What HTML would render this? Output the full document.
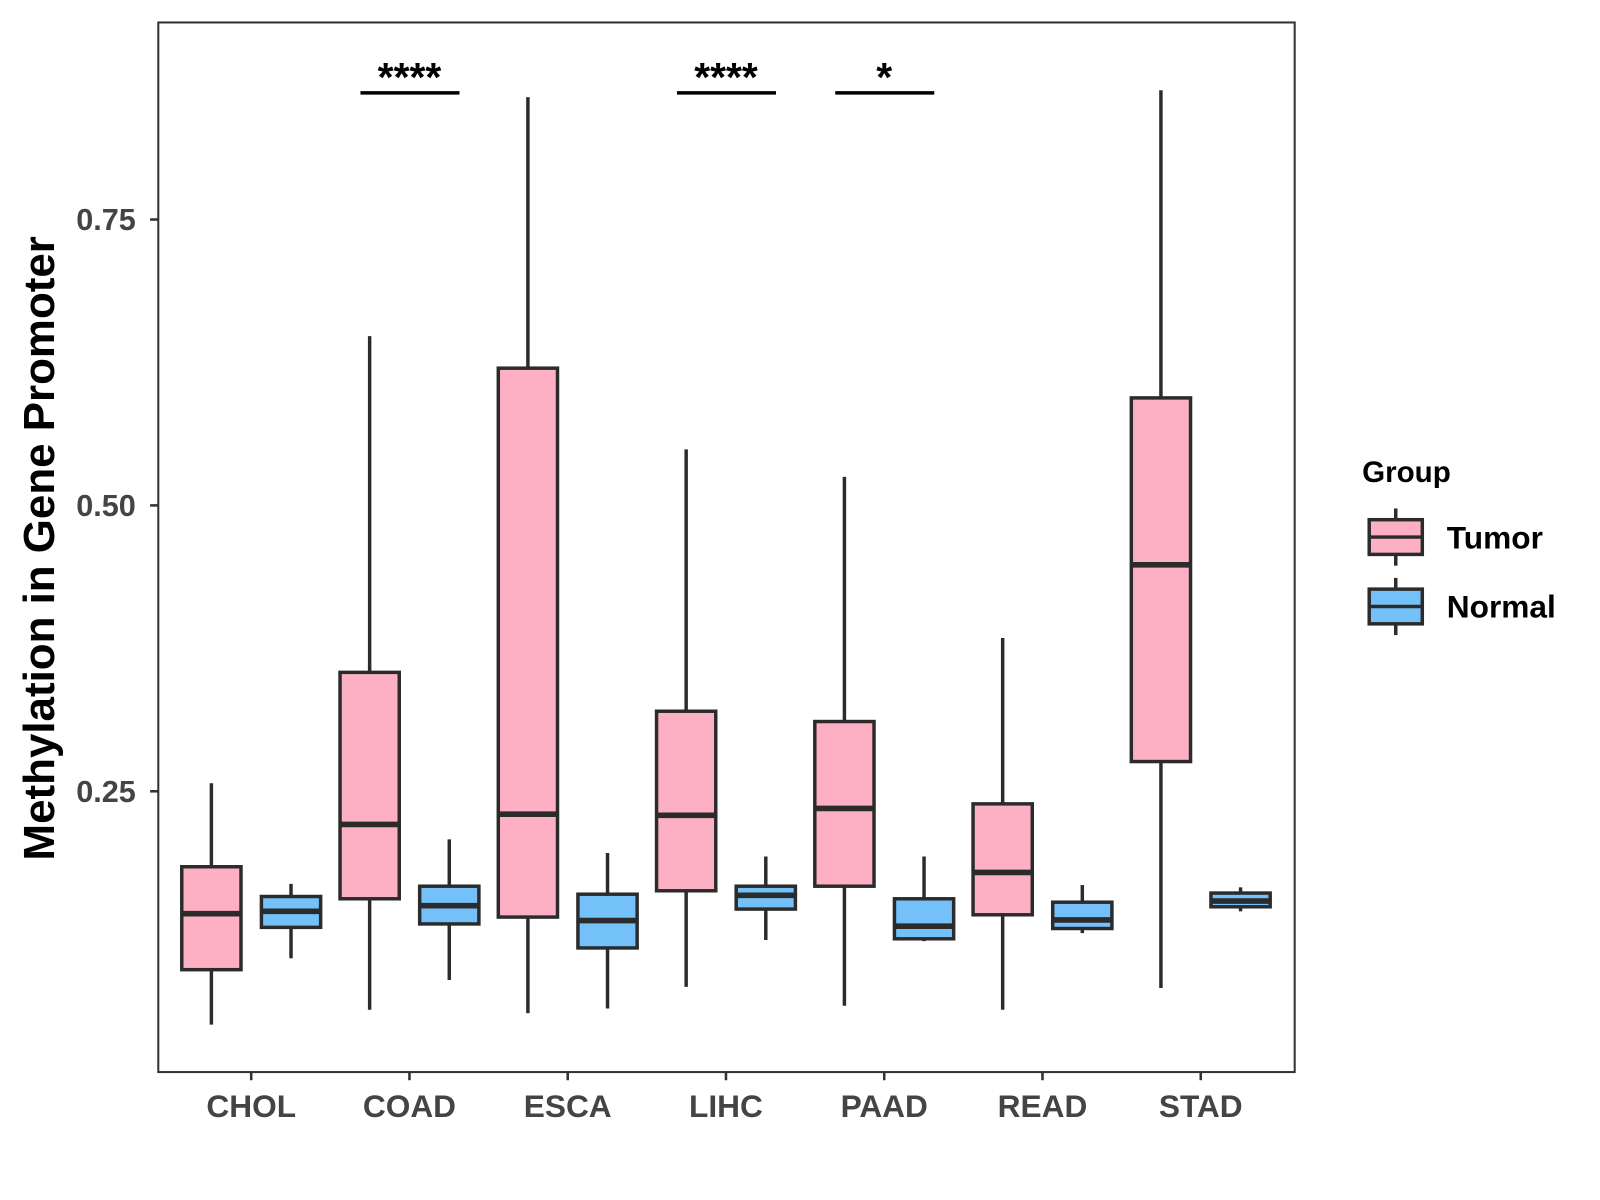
<!DOCTYPE html>
<html><head><meta charset="utf-8"><style>
html,body{margin:0;padding:0;background:#fff;}
svg{display:block;font-family:"Liberation Sans",Arial,sans-serif;font-weight:bold;}
</style></head><body>
<svg id="chart" width="1600" height="1200" viewBox="0 0 1567 1175.3" xmlns="http://www.w3.org/2000/svg">
<rect x="0" y="0" width="1567" height="1176" fill="#fff"/>
<g id="plot"></g>
</svg>
<script>
const categories = ["CHOL","COAD","ESCA","LIHC","PAAD","READ","STAD"];
// [whiskerMin, q1, median, q3, whiskerMax]
const tumorStats = [
  [0.046,0.094,0.143,0.184,0.257],
  [0.059,0.156,0.221,0.354,0.648],
  [0.056,0.140,0.230,0.620,0.857],
  [0.079,0.163,0.229,0.320,0.549],
  [0.0625,0.167,0.235,0.311,0.525],
  [0.059,0.142,0.179,0.239,0.384],
  [0.078,0.276,0.448,0.594,0.863]
];
const normalStats = [
  [0.104,0.131,0.145,0.158,0.169],
  [0.085,0.134,0.150,0.167,0.208],
  [0.060,0.113,0.137,0.160,0.196],
  [0.120,0.147,0.159,0.167,0.193],
  [0.119,0.121,0.132,0.156,0.193],
  [0.126,0.130,0.1375,0.153,0.168],
  [0.145,0.149,0.154,0.161,0.166]
];
const yTicks = [0.25,0.50,0.75];
const yTickLabels = ["0.25","0.50","0.75"];
const sigCategories = ["COAD","LIHC","PAAD"];
const sigLabels = ["****","****","*"];

const NS="http://www.w3.org/2000/svg";
const g=document.getElementById('plot');
const P={l:155,r:1268,t:22,b:1050};
function yScale(v){return 495-(v-0.5)*1120;}
function xScale(i){return 246+i*155;}
function mk(tag,attrs,parent){const e=document.createElementNS(NS,tag);for(const k in attrs)e.setAttribute(k,attrs[k]);(parent||g).appendChild(e);return e;}

const border=mk('rect',{x:P.l,y:P.t,width:P.r-P.l,height:P.b-P.t,fill:'none',stroke:'#333','stroke-width':2});



yTicks.forEach((v,i)=>{
  const y=yScale(v);
  const t=mk('line',{x1:147,x2:P.l,y1:y,y2:y,stroke:'#333','stroke-width':2.5});
  
  
  const lb=mk('text',{x:133,y:y+10.5,'text-anchor':'end','font-size':30,fill:'#444'});
  lb.textContent=yTickLabels[i];
  
  
});
categories.forEach((c,i)=>{
  const x=xScale(i);
  const t=mk('line',{x1:x,x2:x,y1:P.b,y2:P.b+8,stroke:'#333','stroke-width':2.5});
  
  
  const lb=mk('text',{x:x,y:1094,'text-anchor':'middle','font-size':31,fill:'#444'});
  lb.textContent=c;
  
  
});

function drawBox(cx,s,fill,name){
  const w=58;
  const bg=mk('g',{});
  
  
  mk('line',{x1:cx,x2:cx,y1:yScale(s[4]),y2:yScale(s[0]),stroke:'#2b2b2b','stroke-width':3.4},bg);
  mk('rect',{x:cx-w/2,y:yScale(s[3]),width:w,height:yScale(s[1])-yScale(s[3]),fill:fill,stroke:'#2b2b2b','stroke-width':3.4},bg);
  mk('line',{x1:cx-w/2,x2:cx+w/2,y1:yScale(s[2]),y2:yScale(s[2]),stroke:'#2b2b2b','stroke-width':5.5},bg);
}
categories.forEach((c,i)=>{
  drawBox(xScale(i)-39,tumorStats[i],'#FDB0C3','box-tumor-'+c.toLowerCase());
  drawBox(xScale(i)+39,normalStats[i],'#74C1F9','box-normal-'+c.toLowerCase());
});

sigCategories.forEach((c,k)=>{
  const i=categories.indexOf(c);
  const x=xScale(i);
  const l=mk('line',{x1:x-48,x2:x+49,y1:91,y2:91,stroke:'#000','stroke-width':3.4});
  
  
  const t=mk('text',{x:x,y:89,'text-anchor':'middle','font-size':40,fill:'#000'});
  t.textContent=sigLabels[k];
  
  
});

const yt=mk('text',{x:0,y:0,'text-anchor':'middle','font-size':43,fill:'#000',transform:'translate(53,537) rotate(-90)'});
yt.textContent='Methylation in Gene Promoter';



const lg=mk('g',{});


const lt=mk('text',{x:1334,y:472,'font-size':29,fill:'#000'},lg);
lt.textContent='Group';


[['Tumor','#FDB0C3',509],['Normal','#74C1F9',577]].forEach(([n,f,y])=>{
  const e=mk('g',{},lg);
  
  
  mk('line',{x1:1367,x2:1367,y1:y-11,y2:y+45,stroke:'#2b2b2b','stroke-width':3.4},e);
  mk('rect',{x:1341,y:y,width:52,height:34,fill:f,stroke:'#2b2b2b','stroke-width':3.4},e);
  mk('line',{x1:1341,x2:1393,y1:y+17,y2:y+17,stroke:'#2b2b2b','stroke-width':3.4},e);
  const tx=mk('text',{x:1417,y:y+28,'font-size':31,fill:'#000'},e);
  tx.textContent=n;
});
</script>
</body></html>
